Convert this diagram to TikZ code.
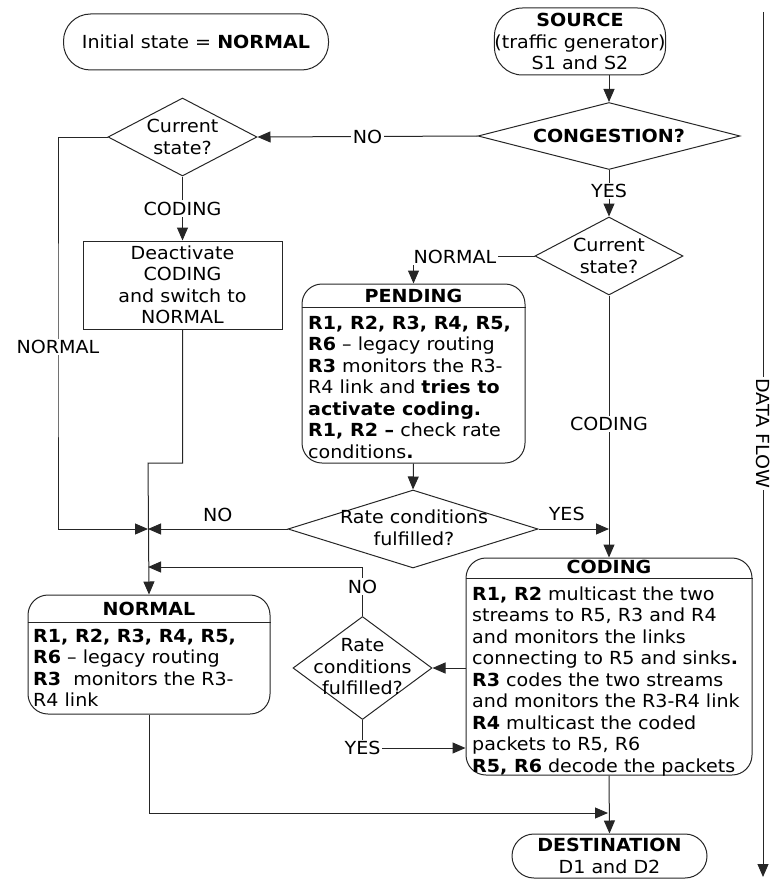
\documentclass[tikz,border=0pt]{standalone}
\usepackage{fontspec}
\setmainfont[FakeStretch=1.06]{DejaVu Sans}
\usetikzlibrary{shapes.geometric,arrows.meta}

\begin{document}
\begin{tikzpicture}[x=1pt,y=-1pt,
  every node/.style={font=\fontsize{18}{21.5}\selectfont, text=black},
  term/.style={draw=black!85, line width=1pt, rectangle, rounded corners=#1,
    inner sep=0pt, align=center},
  dia/.style={draw=black!85, line width=1pt, diamond, inner sep=0pt},
  dtext/.style={align=center, inner sep=0pt},
  state/.style={draw=black!85, line width=1pt, rectangle, rounded corners=20pt, inner sep=0pt},
  plain/.style={draw=black!85, line width=1pt, rectangle, inner sep=0pt, align=center},
  hdr/.style={font=\fontsize{18}{21.5}\selectfont\bfseries, inner sep=0pt},
  body/.style={align=left, inner sep=0pt, anchor=north west},
  lbl/.style={fill=white, inner sep=1.5pt},
  conn/.style={draw=black!85, line width=1pt},
  arr/.style={conn, -{Triangle[length=13pt,width=11pt]}}
]
\useasboundingbox (0,0) rectangle (769,880);

% ---- terminals ----
\node[term=27pt, minimum width=265pt, minimum height=56pt] (init) at (196,42)
  {Initial state = \textbf{NORMAL}};
\node[term=28pt, minimum width=134pt, minimum height=67pt] (src) at (580,41.5)
  {\textbf{SOURCE}\\(traffic generator)\\S1 and S2};
\node[term=22pt, minimum width=195pt, minimum height=44pt] (dest) at (609.5,856)
  {\textbf{DESTINATION}\\D1 and D2};

% ---- decisions ----
\node[dia, minimum width=262pt, minimum height=67pt] (cong) at (609,136) {};
\node[hdr] (congt) at (cong) {CONGESTION?};
\node[dia, minimum width=149pt, minimum height=78pt] (cs1) at (182.5,137) {};
\node[dtext] (cs1t) at (cs1) {Current\\state?};
\node[dia, minimum width=148pt, minimum height=78pt] (cs2) at (609,256) {};
\node[dtext] (cs2t) at (cs2) {Current\\state?};
\node[dia, minimum width=250pt, minimum height=78pt] (rc1) at (413,529) {};
\node[dtext] (rc1t) at (414,528) {Rate conditions\\fulfilled?};
\node[dia, minimum width=139pt, minimum height=103pt] (rc2) at (362.5,668) {};
\node[dtext] (rc2t) at (362.5,667) {Rate\\conditions\\fulfilled?};

% ---- action box ----
\node[plain, minimum width=199pt, minimum height=88pt] (deact) at (182.5,285)
  {Deactivate\\CODING\\and switch to\\NORMAL};

% ---- state boxes ----
\node[state, minimum width=223pt, minimum height=179pt] (pend) at (413.5,373.5) {};
\node[hdr] (pendh) at (413.5,296) {PENDING};
\draw[conn] (pend.west |- 0,307) -- (pend.east |- 0,307);
\node[body] (pendb) at (308,315.5) {%
  \textbf{R1, R2, R3, R4, R5,}\\
  \textbf{R6} -- legacy routing\\
  \textbf{R3} monitors the R3-\\
  R4 link and \textbf{tries to}\\
  \textbf{activate coding.}\\
  \textbf{R1, R2 --} check rate\\
  conditions\textbf{.}};

\node[state, minimum width=286pt, minimum height=217pt] (cod) at (609,666.5) {};
\node[hdr] (codh) at (609,567) {CODING};
\draw[conn] (cod.west |- 0,578) -- (cod.east |- 0,578);
\node[body] (codb) at (472,586.5) {%
  \textbf{R1, R2} multicast the two\\
  streams to R5, R3 and R4\\
  and monitors the links\\
  connecting to R5 and sinks\textbf{.}\\
  \textbf{R3} codes the two streams\\
  and monitors the R3-R4 link\\
  \textbf{R4} multicast the coded\\
  packets to R5, R6\\
  \textbf{R5, R6} decode the packets};

\node[state, minimum width=242pt, minimum height=119pt] (norm) at (149,654.5) {};
\node[hdr] (normh) at (149,608.5) {NORMAL};
\draw[conn] (norm.west |- 0,622) -- (norm.east |- 0,622);
\node[body] (normb) at (33,628.5) {%
  \textbf{R1, R2, R3, R4, R5,}\\
  \textbf{R6} -- legacy routing\\
  \textbf{R3}\ \ monitors the R3-\\
  R4 link};

% ---- junction points ----
\coordinate (jno) at (148,529);
\coordinate (jback) at (148,567);
\coordinate (jyes) at (609,529);
\coordinate (jend) at (609,813);
\coordinate (flowtop) at (763,12);
\coordinate (flowend) at (763,877);

% ---- connectors ----
\draw[arr] (src.south -| cong.north) -- (cong.north);
\draw[arr] (cong.south) -- node[lbl, pos=0.45] (yes1) {YES} (cs2.north);
\draw[arr] (cong.west) -- node[lbl, pos=0.5] (no1) {NO} (cs1.east);
\draw[arr] (cs1.south) -- node[lbl, pos=0.5] (cod1) {CODING} (deact.north);
\draw[arr] (cs1.west) -| (58,347) node[lbl] (norm1) {NORMAL} |- (jno);
\draw[arr] (deact.south) |- (148,463) -- (norm.north);
\draw[arr] (cs2.west) -| (pend.north);
\node[lbl] (norm2) at (455,257) {NORMAL};
\draw[arr] (pend.south) -- (rc1.north);
\draw[arr] (rc1.west) -- node[above=3pt] (no2) {NO} (jno);
\draw[arr] (rc1.east) -- node[above=4pt, pos=0.4] (yes2) {YES} (jyes);
\draw[arr] (cs2.south) -- node[lbl, pos=0.49] (cod2) {CODING} (cod.north);
\draw[arr] (cod.west |- rc2.east) -- (rc2.east);
\draw[arr] (rc2.north) -- node[lbl, pos=0.6] (no3) {NO} (362.5,567) -- (jback);
\draw[arr] (rc2.south) |- node[lbl, pos=0.5] (yes3) {YES} (cod.west |- 0,748);
\draw[arr] (norm.south) |- ([xshift=-1pt]jend);
\draw[arr] (cod.south) -- (dest.north);

% ---- data flow axis ----
\draw[arr] (flowtop) -- node[lbl, rotate=-90, pos=0.487] (flow) {DATA FLOW} (flowend);
\end{tikzpicture}
\end{document}
